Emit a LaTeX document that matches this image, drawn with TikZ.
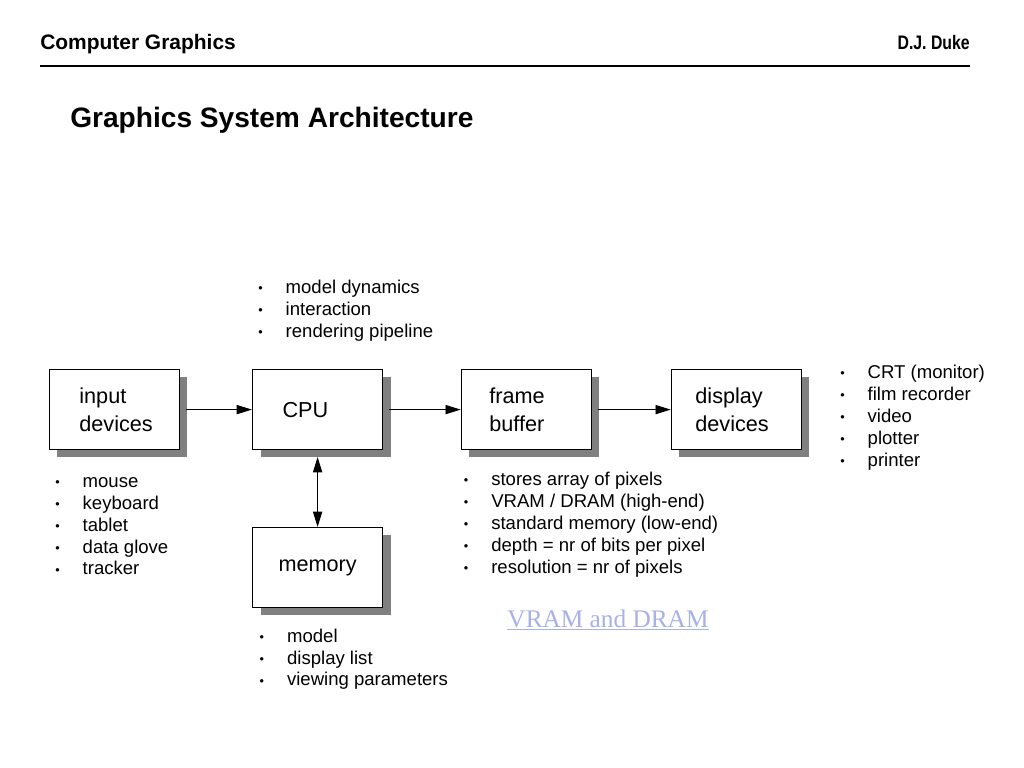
\documentclass[tikz,border=0pt]{standalone}
\usepackage{fontspec}
\setmainfont{Liberation Sans}
\newfontfamily\linkfont{Liberation Serif}
\usetikzlibrary{shapes,arrows.meta,positioning,shadows}

\definecolor{linkblue}{RGB}{168,176,232}
\newcommand{\dotitem}{\makebox[19.5pt][l]{\raisebox{0.6pt}{\fontsize{9}{9}\selectfont\textbullet}}}
\hyphenpenalty=10000

\begin{document}
\begin{tikzpicture}[
  unit/.style={rectangle, draw, line width=1pt, fill=white, minimum width=3.25cm, minimum height=2cm, text width=1.75cm, inner xsep=0.75cm, align=left, font=\fontsize{15.4}{19.9}\selectfont, drop shadow={shadow xshift=0.2cm, shadow yshift=-0.18cm, fill=black!50, opacity=1}},
  notes/.style={anchor=north west, inner sep=0pt, align=left, font=\fontsize{13.2}{15.6}\selectfont},
  flow/.style={-{Triangle[length=0.38cm, width=0.23cm]}, line width=0.7pt, shorten <=0.15cm}
]
\useasboundingbox (0,0) rectangle (25.6,-19.2);

% page header
\node[anchor=base west, inner sep=0pt, font=\bfseries\fontsize{14.9}{18}\selectfont] (course) at (1.0,-1.25) {Computer Graphics};
\node[anchor=base east, inner sep=0pt, font=\bfseries\fontsize{13.9}{16}\selectfont] (author) at (24.25,-1.25) {\scalebox{0.81}[1]{D.J. Duke}};
\draw[line width=1pt] (1.0,-1.65) -- (24.25,-1.65);
\node[anchor=base west, inner sep=0pt, font=\bfseries\fontsize{20}{24}\selectfont] (title) at (1.75,-3.2) {Graphics System Architecture};

% units
\node[unit] (input) at (2.86,-10.24) {input\\devices};
\node[unit] (cpu) at (7.94,-10.24) {CPU};
\node[unit, text width=1.85cm, inner xsep=0.7cm] (frame) at (13.16,-10.24) {frame\\buffer};
\node[unit, text width=2.05cm, inner xsep=0.6cm] (display) at (18.41,-10.24) {display\\devices};
\node[unit, text width=2.05cm, inner xsep=0.6cm, align=center] (memory) at (7.94,-14.19) {memory};

\draw[flow] (input) -- (cpu);
\draw[flow] (cpu) -- (frame);
\draw[flow] (frame) -- (display);
\draw[flow, {Triangle[length=0.38cm, width=0.23cm]}-{Triangle[length=0.38cm, width=0.23cm]}, shorten <=0.17cm] (cpu) -- (memory);

% notes
\node[notes] (cpunotes) at (6.45,-7.0) {\dotitem model dynamics\\\dotitem interaction\\\dotitem rendering pipeline};
\node[notes] (inputnotes) at (1.375,-11.925) {\dotitem mouse\\\dotitem keyboard\\\dotitem tablet\\\dotitem data glove\\\dotitem tracker};
\node[notes] (memnotes) at (6.485,-15.71) {\dotitem model\\\dotitem display list\\\dotitem viewing parameters};
\node[notes] (framenotes) at (11.59,-11.79) {\dotitem stores array of pixels\\\dotitem VRAM / DRAM (high-end)\\\dotitem standard memory (low-end)\\\dotitem depth = nr of bits per pixel\\\dotitem resolution = nr of pixels};
\node[notes] (displaynotes) at (21.0,-9.125) {\dotitem CRT (monitor)\\\dotitem film recorder\\\dotitem video\\\dotitem plotter\\\dotitem printer};

\node[anchor=base, inner sep=0pt, font=\linkfont\fontsize{18}{21}\selectfont, text=linkblue] (link) at (15.2,-15.675) {\underline{VRAM and DRAM}};
\end{tikzpicture}
\end{document}
